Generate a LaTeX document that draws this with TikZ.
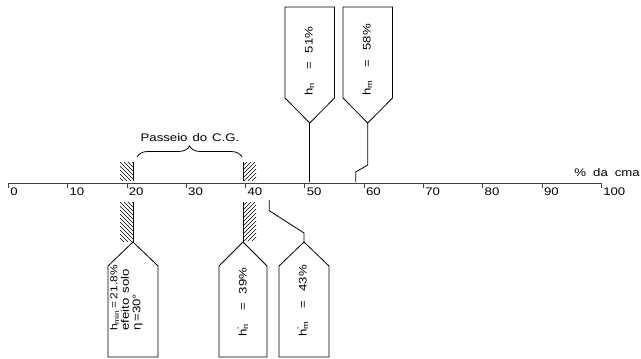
\documentclass[tikz,border=0pt]{standalone}
\usepackage{fontspec}
\setmainfont{Liberation Sans}[FakeStretch=1.2]
\usetikzlibrary{decorations.pathreplacing}

% horizontal scale of the % cma axis
\newcommand\axX[1]{8.3+#1*5.93}
\newcommand\gap{\hspace{5pt}}

% hatched strip: x1,y1,x2,y2, slope (+1 = "\", -1 = "/")
\newcommand\hatchstrip[5]{%
  \begin{scope}
    \clip (#1,#2) rectangle (#3,#4);
    \foreach \k in {-60,-56,...,81}
      \draw[hatchline] (#1+\k,#2) -- ++(#5*60,60);
  \end{scope}}

\tikzset{
  every node/.style={inner sep=0pt, font=\fontsize{11}{10}\selectfont},
  axisline/.style={line width=0.9pt, black!75},
  tickline/.style={line width=0.7pt, black!75},
  boxline/.style={line width=0.8pt},
  leader/.style={line width=0.8pt},
  hatchline/.style={line width=0.55pt},
  vlabel/.style={rotate=90, anchor=base west},
}

\begin{document}
\begin{tikzpicture}[x=1pt, y=-1pt]
\useasboundingbox (0,0) rectangle (641,359);

% ---------- axis ----------
\coordinate (axL) at (\axX{0},183);
\coordinate (axR) at (\axX{100},183);
\draw[axisline] (axL) -- (axR);
\foreach \v in {0,10,...,100}{
  \draw[tickline] (\axX{\v},183) -- (\axX{\v},188);
  \node[anchor=base west] (t\v) at (\axX{\v}+1.8,195) {\v};
}
\node[anchor=base east] (unit) at (640,176) {\%\hspace{7pt}da\hspace{7pt}cma};

% ---------- CG travel ----------
\coordinate (brL) at (137,157);
\coordinate (brR) at (242,157);
\draw[line width=0.8pt, decorate, decoration={brace, amplitude=11pt}] (brL) -- (brR);
\node[anchor=base] (cg) at (190,141) {Passeio\gap do\gap C.G.};

% hatched limits above the axis
\hatchstrip{120}{162}{133}{180}{1}
\hatchstrip{243}{162}{256}{180}{-1}
\draw[leader] (133,162) -- (133,181);
\draw[leader] (243,162) -- (243,181);

% ---------- upper boxes ----------
\coordinate (tipN) at (309.75,123);
\coordinate (tipM) at (367.75,123);
\draw[boxline] (285,7) -- (334.5,7) -- (334.5,98) -- (tipN) -- (285,98) -- cycle;
\draw[boxline] (343,7) -- (392.5,7) -- (392.5,98) -- (tipM) -- (343,98) -- cycle;
\node[vlabel] (hn) at (312.5,96) {h\textsubscript{n}\hspace{13pt}=\hspace{9pt}51\%};
\node[vlabel] (hm) at (370.5,96) {h\textsubscript{m}\hspace{13pt}=\hspace{9pt}58\%};

\coordinate (footN) at (309.75,182);
\coordinate (footM) at (355.7,182);
\draw[leader] (tipN) -- (footN);
\draw[leader] (tipM) -- (367.75,165) -- (355.7,172) -- (footM);

% ---------- lower boxes ----------
\coordinate (tipMin) at (133,242);
\coordinate (tipNp) at (243,242);
\coordinate (tipMp) at (304,242);
\draw[boxline] (108,266) -- (tipMin) -- (158,266) -- (158,357) -- (108,357) -- cycle;
\draw[boxline] (219,266) -- (tipNp) -- (267,266) -- (267,357) -- (219,357) -- cycle;
\draw[boxline] (279,266) -- (tipMp) -- (329,266) -- (329,357) -- (279,357) -- cycle;

% hatched limits below the axis
\hatchstrip{120}{202}{133}{241}{1}
\hatchstrip{243}{202}{256}{240}{-1}
\draw[leader] (133,202) -- (tipMin);
\draw[leader] (243,202) -- (tipNp);

\coordinate (startMp) at (269.3,200);
\draw[leader] (startMp) -- (269.3,210.7) -- (304,233) -- (tipMp);

\node[rotate=90, anchor=west, align=left,
      font=\fontsize{11}{11.5}\selectfont] (hmin) at (126.5,331)
  {{\fontsize{10}{11.5}\selectfont h\textsubscript{min}\hspace{2pt}=\hspace{2pt}21.8\%}\\efeito\gap solo\\η\,=30°};
\node[vlabel] (hnp) at (246.5,337) {h\rlap{\textsuperscript{'}}\textsubscript{n}\hspace{13pt}=\hspace{9pt}39\%};
\node[vlabel] (hmp) at (306.5,337) {h\rlap{\textsuperscript{'}}\textsubscript{m}\hspace{13pt}=\hspace{9pt}43\%};
\end{tikzpicture}
\end{document}
